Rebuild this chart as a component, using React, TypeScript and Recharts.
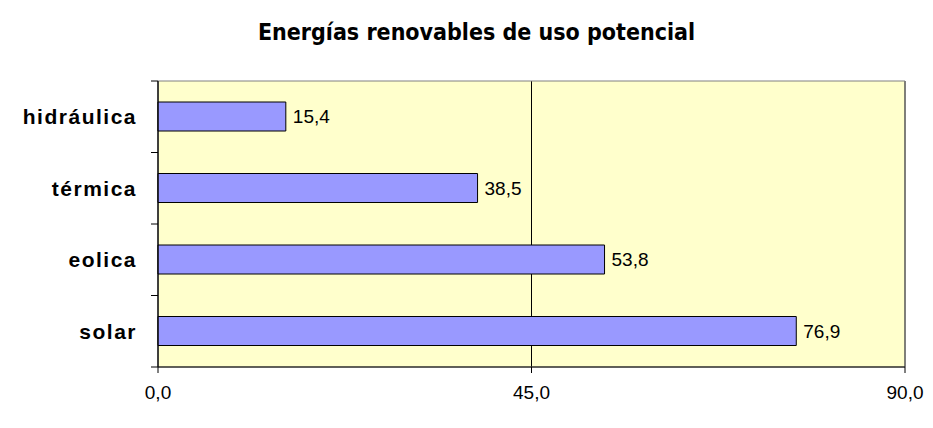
import {
  BarChart,
  Bar,
  XAxis,
  YAxis,
  CartesianGrid,
  ReferenceArea,
  LabelList,
} from "recharts";

const categories = ["hidráulica", "térmica", "eolica", "solar"];
const values = [15.4, 38.5, 53.8, 76.9];
const xTicks = [0, 45, 90];

const data = categories.map((name, i) => ({ name, value: values[i] }));

const WIDTH = 933;
const HEIGHT = 428;
const PLOT_LEFT = 158;
const PLOT_TOP = 81;
const PLOT_BOTTOM = 367;
const BAND = (PLOT_BOTTOM - PLOT_TOP) / categories.length;
const FONT = "'Liberation Sans', Arial, sans-serif";

const fmt = (v: number) => v.toFixed(1).replace(".", ",");

const CategoryTick = (props: any) => {
  const { y, payload, index } = props;
  return (
    <g>
      <line x1={PLOT_LEFT - 7} x2={PLOT_LEFT} y1={y - BAND / 2} y2={y - BAND / 2} stroke="#000" />
      {index === categories.length - 1 && (
        <line x1={PLOT_LEFT - 7} x2={PLOT_LEFT} y1={y + BAND / 2} y2={y + BAND / 2} stroke="#000" />
      )}
      <text
        x={PLOT_LEFT - 21}
        y={y}
        dy="0.36em"
        textAnchor="end"
        fontFamily={FONT}
        fontWeight="bold"
        fontSize={21}
        letterSpacing={1.5}
        fill="#000"
      >
        {payload.value}
      </text>
    </g>
  );
};

export default function App() {
  return (
    <div style={{ position: "absolute", left: 0, top: 0, width: WIDTH, height: HEIGHT, background: "#fff" }}>
      <div
        style={{
          position: "absolute",
          left: 10,
          top: 19,
          width: WIDTH,
          textAlign: "center",
          fontFamily: "'DejaVu Sans Condensed', 'DejaVu Sans', sans-serif",
          fontWeight: "bold",
          fontSize: 23,
          color: "#000",
        }}
      >
        Energías renovables de uso potencial
      </div>
      <BarChart
        width={WIDTH}
        height={HEIGHT}
        data={data}
        layout="vertical"
        margin={{ top: PLOT_TOP, right: 28, bottom: 0, left: 0 }}
      >
        <CartesianGrid fill="#FFFFCC" fillOpacity={1} horizontal={false} stroke="#000" />
        <ReferenceArea x1={0} x2={90} fill="none" stroke="#808080" />
        <XAxis
          type="number"
          domain={[0, 90]}
          ticks={xTicks}
          tickFormatter={fmt}
          height={61}
          tickSize={6}
          tickMargin={13}
          stroke="#000"
          tick={{ fill: "#000", fontSize: 19, fontFamily: FONT }}
        />
        <YAxis
          type="category"
          dataKey="name"
          width={PLOT_LEFT}
          tickLine={false}
          stroke="#000"
          tick={<CategoryTick />}
        />
        <Bar dataKey="value" fill="#9999FF" stroke="#000" strokeWidth={1} barSize={29} isAnimationActive={false}>
          <LabelList
            dataKey="value"
            position="right"
            offset={7}
            formatter={(v: any) => fmt(Number(v))}
            style={{ fill: "#000", fontSize: 19, fontFamily: FONT }}
          />
        </Bar>
      </BarChart>
    </div>
  );
}
